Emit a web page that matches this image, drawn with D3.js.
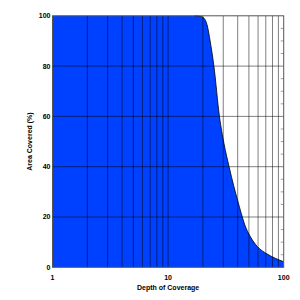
<!DOCTYPE html>
<html>
<head>
<meta charset="utf-8">
<script src="https://cdn.jsdelivr.net/npm/d3@7"></script>
<style>
  body { margin: 0; background: #fff; }
  text { font-family: "Liberation Sans", Arial, Helvetica, sans-serif; font-weight: bold; font-size: 7px; fill: #000; }
</style>
</head>
<body>
<script>
// coverage curve
const depth   = [1, 10, 17, 19, 20.5, 21.7, 23.1, 24.9, 27.8, 30.5, 33.7, 36.9, 40, 42.9, 46.4, 51.3, 59, 71.9, 84.4, 100];
const covered = [100, 100, 100, 99.8, 99, 96.5, 90, 80, 60, 49, 40, 32.5, 26.5, 21.5, 16.5, 12.3, 8.3, 5.3, 3.6, 2.2];
const xTicks = [1, 10, 100];
const yTicks = [0, 20, 40, 60, 80, 100];

const W = 300, H = 300;
const svg = d3.select("body").append("svg").attr("width", W).attr("height", H);

const x = d3.scaleLog().domain([1, 100]).range([52.5, 283.7]);
const y = d3.scaleLinear().domain([0, 100]).range([267.3, 15.8]);

const pts = depth.map((d, i) => [d, covered[i]]);

//filled area under the curve
const area = d3.area()
  .x(d => x(d[0]))
  .y0(y(0))
  .y1(d => y(d[1]))
  .curve(d3.curveMonotoneX);
svg.append("path").datum(pts).attr("d", area).attr("fill", "#0040ff");

// grid lines
const grid = svg.append("g").attr("stroke", "#000").attr("stroke-opacity", 0.5).attr("stroke-width", 1);
const vLines = x.ticks().filter(t => t > 1 && t < 100);
grid.selectAll("line.v").data(vLines).join("line")
  .attr("x1", d => x(d)).attr("x2", d => x(d))
  .attr("y1", y(0)).attr("y2", y(100));
grid.selectAll("line.h").data(yTicks.filter(t => t > 0 && t < 100)).join("line")
  .attr("x1", x(1)).attr("x2", x(100))
  .attr("y1", d => y(d)).attr("y2", d => y(d));

// outline of the curve
const line = d3.line().x(d => x(d[0])).y(d => y(d[1])).curve(d3.curveMonotoneX);
svg.append("path").datum(pts.filter(d => d[0] >= 17)).attr("d", line)
  .attr("fill", "none").attr("stroke", "#000").attr("stroke-width", 0.8);

// minor ticks on the right side
const minor = d3.range(5, 100, 5).filter(v => v % 20 != 0);
svg.append("g").selectAll("line").data(minor).join("line")
  .attr("x1", x(100) - 3).attr("x2", x(100))
  .attr("y1", d => y(d)).attr("y2", d => y(d))
  .attr("stroke", "#888").attr("stroke-width", 0.8);

// frame
svg.append("rect")
  .attr("x", x(1)).attr("y", y(100))
  .attr("width", x(100) - x(1)).attr("height", y(0) - y(100))
  .attr("fill", "none").attr("stroke", "#555").attr("stroke-width", 1);

// y labels
svg.append("g").selectAll("text").data(yTicks).join("text")
  .attr("x", 50.5).attr("y", d => y(d)).attr("dy", "0.35em")
  .attr("text-anchor", "end").text(d => d);

// x labels
svg.append("g").selectAll("text").data(xTicks).join("text")
  .attr("x", d => x(d)).attr("y", 277.5).attr("dy", "0.35em")
  .attr("text-anchor", "middle").text(d => d);

svg.append("text").attr("x", (x(1) + x(100)) / 2).attr("y", 288).attr("dy", "0.35em")
  .attr("text-anchor", "middle").text("Depth of Coverage");

svg.append("text")
  .attr("transform", `translate(29.5,${(y(0) + y(100)) / 2}) rotate(-90)`)
  .attr("text-anchor", "middle").attr("dy", "0.35em")
  .text("Area Covered (%)");
</script>
</body>
</html>
